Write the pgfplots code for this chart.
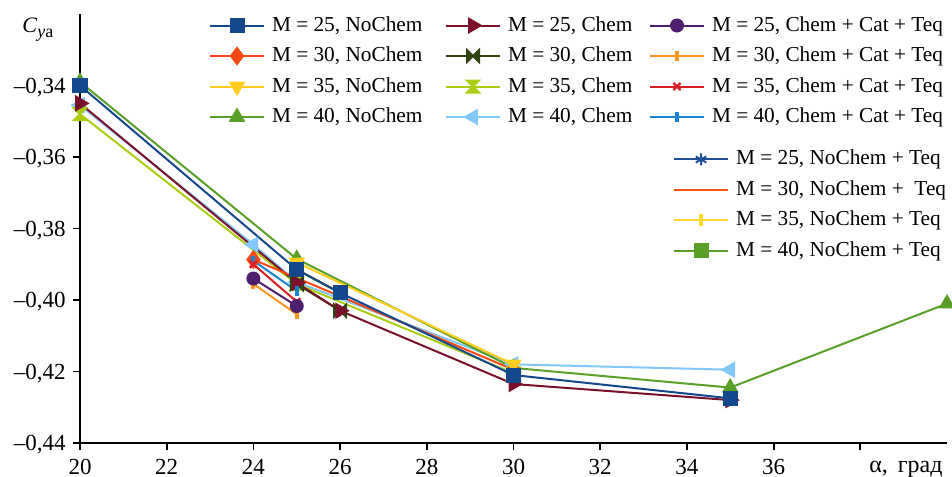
\documentclass[border=0pt]{standalone}
\usepackage{fontspec}
\setmainfont{Liberation Serif}
\usepackage{pgfplots}
\pgfplotsset{compat=1.18}

% series colours
\definecolor{cA}{RGB}{20,72,140}
\definecolor{cB}{RGB}{250,72,20}
\definecolor{cC}{RGB}{255,205,30}
\definecolor{cD}{RGB}{88,160,40}
\definecolor{cE}{RGB}{122,16,42}
\definecolor{cF}{RGB}{48,66,16}
\definecolor{cG}{RGB}{170,205,20}
\definecolor{cH}{RGB}{130,200,250}
\definecolor{cI}{RGB}{80,30,110}
\definecolor{cJ}{RGB}{255,150,30}
\definecolor{cK}{RGB}{215,30,35}
\definecolor{cL}{RGB}{25,130,210}
\definecolor{cM}{RGB}{30,80,150}
\definecolor{cN}{RGB}{255,80,20}
\definecolor{cO}{RGB}{255,215,40}
\definecolor{cP}{RGB}{90,160,40}

% two triangles meeting at their tips
\pgfdeclareplotmark{bowtie}{%
  \pgfpathmoveto{\pgfqpoint{-\pgfplotmarksize}{-\pgfplotmarksize}}%
  \pgfpathlineto{\pgfqpoint{0pt}{0pt}}%
  \pgfpathlineto{\pgfqpoint{-\pgfplotmarksize}{\pgfplotmarksize}}%
  \pgfpathclose
  \pgfpathmoveto{\pgfqpoint{\pgfplotmarksize}{-\pgfplotmarksize}}%
  \pgfpathlineto{\pgfqpoint{0pt}{0pt}}%
  \pgfpathlineto{\pgfqpoint{\pgfplotmarksize}{\pgfplotmarksize}}%
  \pgfpathclose
  \pgfusepathqfillstroke}
\pgfdeclareplotmark{hourglass}{%
  \pgfpathmoveto{\pgfqpoint{-\pgfplotmarksize}{-\pgfplotmarksize}}%
  \pgfpathlineto{\pgfqpoint{0pt}{0pt}}%
  \pgfpathlineto{\pgfqpoint{\pgfplotmarksize}{-\pgfplotmarksize}}%
  \pgfpathclose
  \pgfpathmoveto{\pgfqpoint{-\pgfplotmarksize}{\pgfplotmarksize}}%
  \pgfpathlineto{\pgfqpoint{0pt}{0pt}}%
  \pgfpathlineto{\pgfqpoint{\pgfplotmarksize}{\pgfplotmarksize}}%
  \pgfpathclose
  \pgfusepathqfillstroke}

\tikzset{legfont/.style={font=\fontsize{10.65bp}{12bp}\selectfont}}

\pgfplotsset{
  base/.style={
    at={(0,0)}, anchor=south west,
    scale only axis, width=433.5bp, height=214.5bp,
    xmin=20, xmax=40, ymin=-0.44, ymax=-0.32,
    clip=false,
    legend cell align=left,
    legend image code/.code={%
      \draw[mark repeat=2,mark phase=2,##1]
        plot coordinates {(0bp,0bp) (13.5bp,0bp) (27bp,0bp)};},
  },
  ser/.style={line width=1bp, color=#1, mark options={solid, fill=#1, draw=#1}},
  % marker styles, one per series
  sA/.style={ser=cA, mark=square*, mark size=3.25bp},
  sB/.style={ser=cB, mark=diamond*, mark size=4bp},
  sC/.style={ser=cC, mark=triangle*, mark size=3.8bp, mark options={rotate=180}},
  sD/.style={ser=cD, mark=triangle*, mark size=3.8bp},
  sE/.style={ser=cE, mark=triangle*, mark size=3.8bp, mark options={rotate=-90}},
  sF/.style={ser=cF, mark=bowtie, mark size=3bp},
  sG/.style={ser=cG, mark=hourglass, mark size=3bp},
  sH/.style={ser=cH, mark=triangle*, mark size=3.8bp, mark options={rotate=90}},
  sI/.style={ser=cI, mark=*, mark size=3bp},
  sJ/.style={ser=cJ, mark=|, mark size=2.5bp, mark options={line width=2bp}},
  sK/.style={ser=cK, mark=x, mark size=2.5bp, mark options={line width=1.2bp}},
  sL/.style={ser=cL, mark=|, mark size=2.5bp, mark options={line width=2bp}},
}

\begin{document}
\begin{tikzpicture}

% NoChem + Teq series with their own legend
\begin{axis}[base, hide axis,
  legend style={draw=none, fill=none, inner sep=0pt, outer sep=0pt,
    at={(axis description cs:0.684,0.690)}, anchor=north west,
    row sep=2.75bp, column sep=0pt,
    nodes={legfont, text height=8bp, text depth=2.5bp, inner ysep=1bp, inner xsep=3.5bp}},
]
\addplot[ser=cM, mark=asterisk, mark size=3bp] coordinates {(25,-0.3915) (26,-0.398)};
\addlegendentry{M = 25, NoChem + Teq}
\addplot[ser=cN, mark=none] coordinates {(25,-0.3915) (26,-0.398)};
\addlegendentry{M = 30, NoChem +\ \ Teq}
\addplot[ser=cO, mark=|, mark size=3bp, mark options={line width=2bp}] coordinates {(25,-0.3915) (26,-0.398)};
\addlegendentry{M = 35, NoChem + Teq}
\addplot[ser=cP, mark=square*, mark size=3.25bp] coordinates {(25,-0.3915) (26,-0.398)};
\addlegendentry{M = 40, NoChem + Teq}
\end{axis}

\begin{axis}[base,
  axis lines*=left,
  axis line style={line width=0.9bp, black},
  tick align=outside, major tick length=3.5bp,
  tick style={line width=0.9bp, black},
  xtick={20,22,24,26,28,30,32,34,36,38},
  xticklabels={20,22,24,26,28,30,32,34,36,{}},
  ytick={-0.44,-0.42,-0.40,-0.38,-0.36,-0.34},
  yticklabels={{–0,44},{–0,42},{–0,40},{–0,38},{–0,36},{–0,34}},
  xticklabel style={font=\fontsize{11.5bp}{12bp}\selectfont, inner sep=0pt, text height=7.8bp, text depth=0pt},
  yticklabel style={font=\fontsize{11.5bp}{12bp}\selectfont, inner sep=0pt, text height=7.8bp, text depth=0pt},
  xticklabel shift=4.2bp, yticklabel shift=3.5bp,
  legend columns=3,
  legend style={draw=none, fill=none, inner sep=0pt, outer sep=0pt,
    at={(axis description cs:0.1488,1.0023)}, anchor=north west,
    row sep=2.75bp, column sep=0pt,
    nodes={legfont, text height=8bp, text depth=2.5bp, inner ysep=1bp, inner xsep=3.5bp}},
]
% legend, row by row
\addlegendimage{sA}\addlegendentry{\makebox[83bp][l]{M = 25, NoChem}}
\addlegendimage{sE}\addlegendentry{\makebox[67bp][l]{M = 25, Chem}}
\addlegendimage{sI}\addlegendentry{M = 25, Chem + Cat + Teq}
\addlegendimage{sB}\addlegendentry{\makebox[83bp][l]{M = 30, NoChem}}
\addlegendimage{sF}\addlegendentry{\makebox[67bp][l]{M = 30, Chem}}
\addlegendimage{sJ}\addlegendentry{M = 30, Chem + Cat + Teq}
\addlegendimage{sC}\addlegendentry{\makebox[83bp][l]{M = 35, NoChem}}
\addlegendimage{sG}\addlegendentry{\makebox[67bp][l]{M = 35, Chem}}
\addlegendimage{sK}\addlegendentry{M = 35, Chem + Cat + Teq}
\addlegendimage{sD}\addlegendentry{\makebox[83bp][l]{M = 40, NoChem}}
\addlegendimage{sH}\addlegendentry{\makebox[67bp][l]{M = 40, Chem}}
\addlegendimage{sL}\addlegendentry{M = 40, Chem + Cat + Teq}

% data, bottom layer first
\addplot[sH, forget plot] coordinates {(20,-0.3455) (24,-0.3845) (25,-0.395) (30,-0.418) (35,-0.4195)};
\addplot[sG, forget plot] coordinates {(20,-0.348) (25,-0.3955) (30,-0.4205)};
\addplot[sF, forget plot] coordinates {(25,-0.3955) (26,-0.403)};
\addplot[sE, forget plot] coordinates {(20,-0.345) (25,-0.3952) (26,-0.403) (30,-0.4235) (35,-0.428)};
\addplot[sD, forget plot] coordinates {(20,-0.339) (25,-0.3885) (30,-0.419) (35,-0.4245) (40,-0.401)};
\addplot[sB, forget plot] coordinates {(24,-0.3887) (30,-0.4195)};
\addplot[sC, forget plot] coordinates {(25,-0.3895) (30,-0.418)};
\addplot[sL, forget plot] coordinates {(24,-0.389) (25,-0.3975)};
\addplot[sK, forget plot] coordinates {(24,-0.390) (25,-0.4005)};
\addplot[sJ, forget plot] coordinates {(24,-0.3955) (25,-0.404)};
\addplot[sI, forget plot] coordinates {(24,-0.394) (25,-0.4017)};
\addplot[sA, forget plot] coordinates {(20,-0.340) (25,-0.3915) (26,-0.398) (30,-0.421) (35,-0.4275)};

% axis titles
\node[anchor=base west, inner sep=0pt] at ([xshift=-29bp, yshift=205bp]rel axis cs:0,0)
  {\fontsize{11bp}{12bp}\selectfont\textit{C}\raisebox{-2.5bp}{\fontsize{9bp}{10bp}\selectfont\textit{y}a}};
\node[anchor=base east, inner sep=0pt] at ([xshift=-2bp, yshift=-14.5bp]rel axis cs:1,0)
  {\fontsize{12bp}{13bp}\selectfont α,\hspace{2bp} град};
\end{axis}

\pgfresetboundingbox
\path[use as bounding box] (-40bp,-17bp) rectangle (436bp,221.5bp);
\end{tikzpicture}
\end{document}
